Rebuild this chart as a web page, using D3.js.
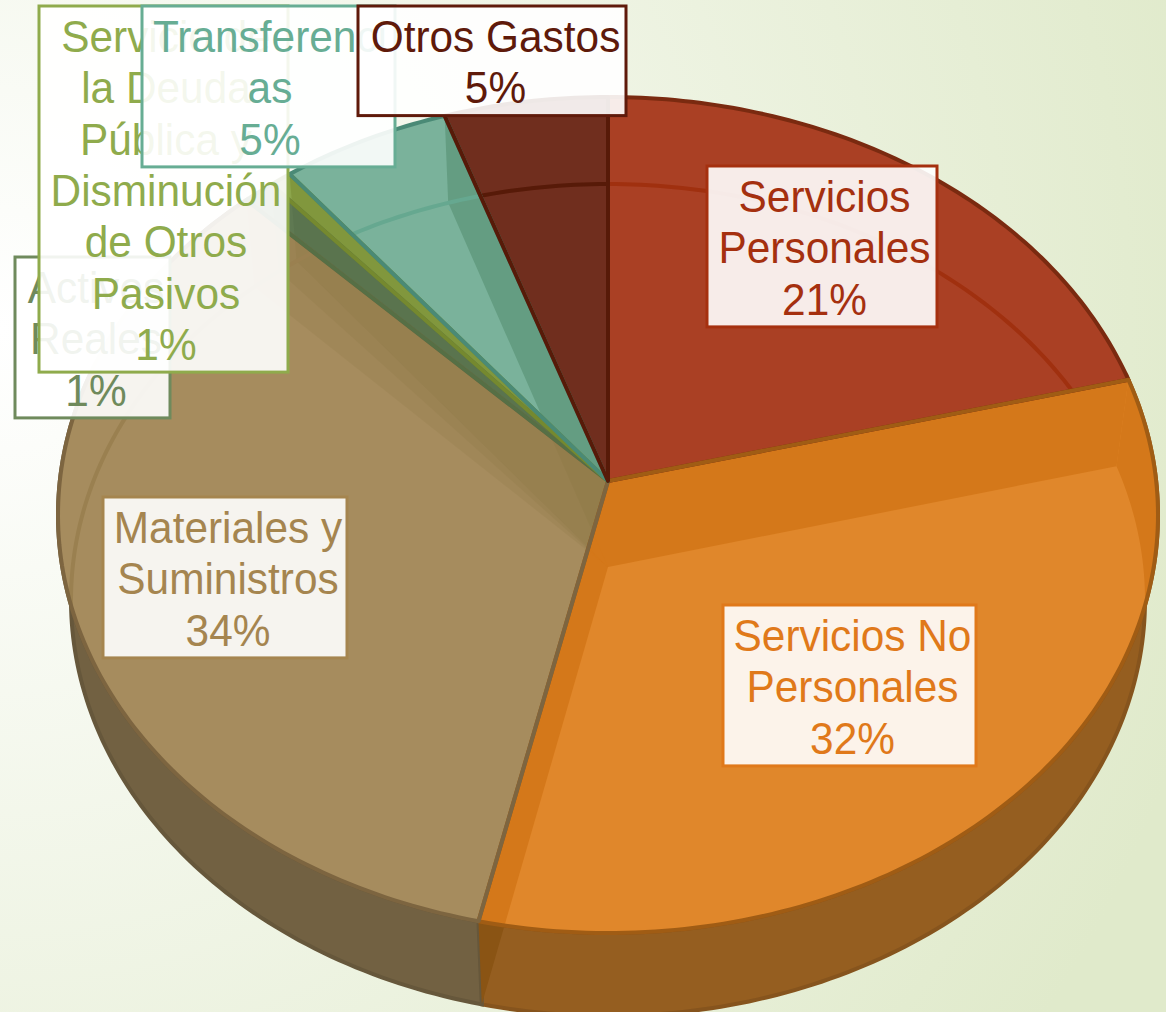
<!DOCTYPE html>
<html>
<head>
<meta charset="utf-8">
<script src="https://cdn.jsdelivr.net/npm/d3@7"></script>
<style>
html, body { margin: 0; padding: 0; overflow: hidden; }
svg { display: block; }
text { font-family: "Liberation Sans", Arial, sans-serif; }
</style>
</head>
<body>
<div id="chart"></div>
<script>
const categories = ["Servicios Personales", "Servicios No Personales", "Materiales y Suministros", "Activos Reales", "Servicio de la Deuda Pública y Disminución de Otros Pasivos", "Transferencias", "Otros Gastos"]
const values = [21.0, 32.49, 34.21, 1.0, 0.7, 5.4, 5.2]
const labelLines = [
    ["Servicios", "Personales"],
    ["Servicios No", "Personales"],
    ["Materiales y", "Suministros"],
    ["Activos", "Reales"],
    ["Servicio de", "la Deuda", "Pública y", "Disminución", "de Otros", "Pasivos"],
    ["Transferenci", "as"],
    ["Otros Gastos"]
]

// slice styling, same order as categories
const textColors = ["#a5300f", "#e0791a", "#a5854f", "#6f8a5c", "#8fab4c", "#67ad94", "#5f1a0a"]
const topColors = ["#aa4024", "#e0872b", "#a68c5e", "#69825a", "#8ca54b", "#7ab29b", "#702e1e"]
const edgeColors = ["#7a2a10", "#a05c14", "#7d6540", "#566f45", "#75892f", "#4a8a76", "#571a08"]
const wallColors = ["#7a2a10", "#955e20", "#726142", "#566f45", "#75892f", "#4a8a76", "#571a08"]
const bandColors = ["#aa4024", "#d4781a", "#786a37", "#55704a", "#75892f", "#649d82", "#702e1e"]
const bandOpacity = [0, 1, 0.13, 0.5, 0.5, 1, 0]
const arcColors = ["#a0300f", null, "#9a8050", null, null, "#66a890", "#571a08"]

// label boxes: left, top, width and text centre. Drawn back to front.
const labelBoxes = [
    {i: 3, x: 15, y: 257, w: 155, cx: 96},
    {i: 4, x: 39, y: 6, w: 249, cx: 166},
    {i: 5, x: 142, y: 6, w: 253, cx: 270},
    {i: 6, x: 358, y: 6, w: 268, cx: 495.5},
    {i: 0, x: 707, y: 166, w: 230, cx: 824.5},
    {i: 1, x: 723, y: 605, w: 253, cx: 852.5},
    {i: 2, x: 103, y: 497, w: 244, cx: 228}
]

const width = 1166
const height = 1012
const lineHeight = 51.3

function disc(cx, cy, rx, ry, a) {
    return {
        x: d3.scaleLinear().domain([-1, 1]).range([cx - rx, cx + rx]),
        y: d3.scaleLinear().domain([-1, 1]).range([cy - ry, cy + ry]),
        a: a
    }
}
// the apex sits above the ellipse centre, so angles go through a perspective map
const top3d = disc(608, 515, 550, 418, 34 / 418)
const bottom3d = disc(608, 600, 537, 416, 33 / 416)

function project(d, ang) {
    var u = Math.sin(ang), v = -Math.cos(ang)
    var den = 1 - d.a * v
    return [d.x(u * Math.sqrt(1 - d.a * d.a) / den), d.y((v - d.a) / den)]
}
function apex(d) {
    return [d.x(0), d.y(-d.a)]
}
function rim(d, a0, a1) {
    var n = Math.max(2, Math.ceil((a1 - a0) * 60))
    return d3.range(n + 1).map(k => project(d, a0 + (a1 - a0) * k / n))
}
const line = d3.line()
const closed = pts => line(pts) + "Z"

const slices = d3.pie().sort(null)(values)

const svg = d3.select("#chart").append("svg")
    .attr("width", width)
    .attr("height", height)

const defs = svg.append("defs")
const bg = defs.append("radialGradient")
    .attr("id", "bg")
    .attr("gradientUnits", "userSpaceOnUse")
    .attr("cx", 0).attr("cy", 330).attr("r", 1250)
bg.append("stop").attr("offset", "0%").attr("stop-color", "#ffffff")
bg.append("stop").attr("offset", "100%").attr("stop-color", "#e0eacb")

svg.append("rect")
    .attr("width", width)
    .attr("height", height)
    .attr("fill", "url(#bg)")

const topPath = d => closed([apex(top3d)].concat(rim(top3d, d.startAngle, d.endAngle)))
const wallPath = d => closed(rim(top3d, d.startAngle, d.endAngle).concat(rim(bottom3d, d.startAngle, d.endAngle).reverse()))
const radialPath = ang => closed([apex(top3d), project(top3d, ang), project(bottom3d, ang), apex(bottom3d)])

defs.selectAll("clipPath.top")
    .data(slices)
    .join("clipPath")
    .attr("class", "top")
    .attr("id", (d, i) => "clip-top-" + i)
    .append("path")
    .attr("d", topPath)

// front walls, only the two big slices show one
const front = slices.filter(d => d.index === 1 || d.index === 2)
svg.append("g")
    .selectAll("path")
    .data(front)
    .join("path")
    .attr("d", wallPath)
    .attr("fill", d => wallColors[d.index])
    .attr("stroke", d => d3.color(wallColors[d.index]).darker(0.3))
    .attr("stroke-width", 4)

// seam between the walls, where the side wall shows through
svg.append("path")
    .attr("d", radialPath(slices[1].endAngle))
    .attr("fill", "#8a5414")

// top faces
svg.append("g")
    .selectAll("path")
    .data(slices)
    .join("path")
    .attr("d", topPath)
    .attr("fill", d => topColors[d.index])

// darker bands: side walls seen through the top, per slice
const boundaries = slices.slice(0, -1).map(d => d.endAngle)
slices.forEach(function (s) {
    if (!bandOpacity[s.index]) return
    var g = svg.append("g").attr("clip-path", "url(#clip-top-" + s.index + ")")
    g.selectAll("path.band")
        .data(boundaries)
        .join("path")
        .attr("class", "band")
        .attr("d", radialPath)
        .attr("fill", bandColors[s.index])
        .attr("fill-opacity", bandOpacity[s.index])
    if (s.index === 1) {
        g.append("path")
            .attr("d", wallPath(s))
            .attr("fill", bandColors[1])
    }
})

// base rim seen through the top
slices.forEach(function (s) {
    if (!arcColors[s.index]) return
    svg.append("g")
        .attr("clip-path", "url(#clip-top-" + s.index + ")")
        .append("path")
        .attr("d", line(rim(bottom3d, 0, 2 * Math.PI)))
        .attr("fill", "none")
        .attr("stroke", arcColors[s.index])
        .attr("stroke-width", 4)
})

// slice outlines
svg.append("g")
    .selectAll("path")
    .data(slices)
    .join("path")
    .attr("d", topPath)
    .attr("fill", "none")
    .attr("stroke", d => edgeColors[d.index])
    .attr("stroke-width", 4)
    .attr("stroke-linejoin", "round")

const labels = svg.append("g")
    .selectAll("g")
    .data(labelBoxes)
    .join("g")

labels.append("rect")
    .attr("x", d => d.x)
    .attr("y", d => d.y)
    .attr("width", d => d.w)
    .attr("height", d => (labelLines[d.i].length + 1) * lineHeight + 7)
    .attr("fill", "#ffffff")
    .attr("fill-opacity", 0.9)
    .attr("stroke", d => textColors[d.i])
    .attr("stroke-width", 3)

labels.each(function (b) {
    var lines = labelLines[b.i].concat([Math.round(values[b.i]) + "%"])
    d3.select(this).selectAll("text")
        .data(lines)
        .join("text")
        .attr("transform", (t, k) => "translate(" + b.cx + "," + (b.y + 46 + k * lineHeight) + ") scale(1,1.065)")
        .attr("text-anchor", "middle")
        .attr("font-size", 42.4)
        .attr("fill", textColors[b.i])
        .text(t => t)
})
</script>
</body>
</html>
